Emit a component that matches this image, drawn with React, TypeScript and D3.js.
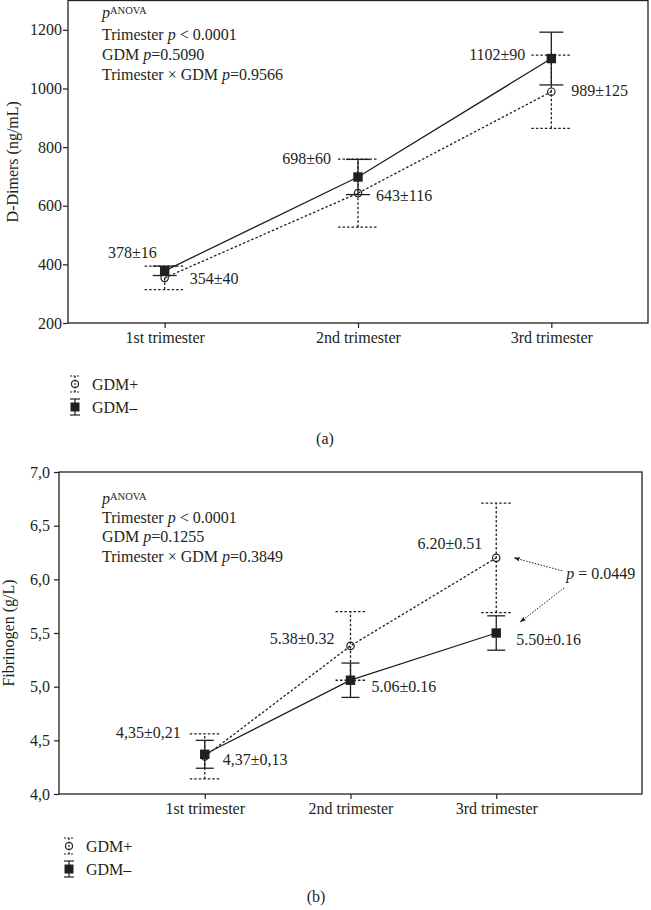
import { useEffect, useRef } from "react";
import * as d3 from "d3";

const trimesters = ["1st trimester", "2nd trimester", "3rd trimester"];
const groups = ["GDM+", "GDM–"];
const anovaTerms = ["Trimester", "GDM", "Trimester × GDM"];

// (a) D-dimers, ng/mL: mean ± SD
const dimerPos = [354, 643, 989];
const dimerPosSd = [40, 116, 125];
const dimerNeg = [378, 698, 1102];
const dimerNegSd = [16, 60, 90];
const dimerTicks = [200, 400, 600, 800, 1000, 1200];
const dimerPosLabels = ["354±40", "643±116", "989±125"];
const dimerNegLabels = ["378±16", "698±60", "1102±90"];
const dimerAnova = [" < 0.0001", "=0.5090", "=0.9566"];

// (b) fibrinogen, g/L: mean ± SD
const fibPos = [4.35, 5.38, 6.2];
const fibPosSd = [0.21, 0.32, 0.51];
const fibNeg = [4.37, 5.06, 5.5];
const fibNegSd = [0.13, 0.16, 0.16];
const fibTicks = [4, 4.5, 5, 5.5, 6, 6.5, 7];
const fibPosLabels = ["4,35±0,21", "5.38±0.32", "6.20±0.51"];
const fibNegLabels = ["4,37±0,13", "5.06±0.16", "5.50±0.16"];
const fibAnova = [" < 0.0001", "=0.1255", "=0.3849"];
const fibPairP = " = 0.0449";

const ink = "#231f20";
const font = "'Liberation Serif', 'Times New Roman', serif";
const dots = "2.5,2";

const panels = [
  {
    left: 68, right: 648, top: 0.5, bottom: 323,
    domain: [200, 1300], ticks: dimerTicks, fmt: d3.format("d"), pad: 0.5, tickPad: 1,
    yLabel: "D-Dimers (ng/mL)", yLabelX: 18,
    pos: dimerPos, posSd: dimerPosSd, neg: dimerNeg, negSd: dimerNegSd,
    posLabels: dimerPosLabels, negLabels: dimerNegLabels,
    posOff: [[25, 6], [18, 8], [20, 4]], negOff: [[-8, -13], [-27, -13], [-26, 1]],
    posAnchor: "start", negAnchor: "end",
    capPos: 20, capNeg: 12,
    anova: dimerAnova, anovaY: [18, 40, 60, 80],
    legendX: 75, legendY: [384, 407], caption: "(a)", captionX: 325, captionY: 444,
  },
  {
    left: 59, right: 642, top: 472, bottom: 794,
    domain: [4, 7], ticks: fibTicks, fmt: (d: number) => d3.format(".1f")(d).replace(".", ","), pad: 1, tickPad: 4,
    yLabel: "Fibrinogen (g/L)", yLabelX: 14,
    pos: fibPos, posSd: fibPosSd, neg: fibNeg, negSd: fibNegSd,
    posLabels: fibPosLabels, negLabels: fibNegLabels,
    posOff: [[-24, -18], [-16, -2], [-14, -9]], negOff: [[18, 11], [21, 12], [20, 12]],
    posAnchor: "end", negAnchor: "start",
    capPos: 15, capNeg: 9,
    anova: fibAnova, anovaY: [504, 523, 542, 562],
    legendX: 69, legendY: [846, 869], caption: "(b)", captionX: 316, captionY: 902,
  },
];

function drawPanel(svg: any, cfg: any, idx: number) {
  const g = svg.append("g");
  const x = d3.scalePoint<string>().domain(trimesters).range([cfg.left, cfg.right]).padding(cfg.pad);
  const y = d3.scaleLinear().domain(cfg.domain).range([cfg.bottom, cfg.top]);

  g.append("rect")
    .attr("x", cfg.left).attr("y", cfg.top)
    .attr("width", cfg.right - cfg.left).attr("height", cfg.bottom - cfg.top)
    .attr("fill", "none").attr("stroke", ink).attr("stroke-width", 1.3);

  const ya = g.append("g")
    .attr("transform", `translate(${cfg.left},0)`)
    .call(d3.axisLeft(y).tickValues(cfg.ticks).tickSize(5).tickPadding(cfg.tickPad).tickFormat(cfg.fmt));
  const xa = g.append("g")
    .attr("transform", `translate(0,${cfg.bottom})`)
    .call(d3.axisBottom(x).tickSize(5).tickPadding(4));
  [ya, xa].forEach(a => {
    a.select(".domain").remove();
    a.attr("font-family", font).attr("font-size", 16);
    a.selectAll("line").attr("stroke", ink).attr("stroke-width", 1.2);
    a.selectAll("text").attr("fill", ink);
  });

  g.append("text")
    .attr("transform", `translate(${cfg.yLabelX},${(cfg.top + cfg.bottom) / 2}) rotate(-90)`)
    .attr("text-anchor", "middle").attr("font-size", 16).attr("fill", ink)
    .text(cfg.yLabel);

  // ANOVA block
  const t0 = g.append("text").attr("x", 102).attr("y", cfg.anovaY[0]).attr("font-size", 16).attr("fill", ink);
  t0.append("tspan").attr("font-style", "italic").text("p");
  t0.append("tspan").attr("font-size", 10.5).attr("dy", -4).text("ANOVA");
  anovaTerms.forEach((term, i) => {
    const t = g.append("text").attr("x", 102).attr("y", cfg.anovaY[i + 1]).attr("font-size", 16).attr("fill", ink);
    t.append("tspan").text(term + " ");
    t.append("tspan").attr("font-style", "italic").text("p");
    t.append("tspan").text(cfg.anova[i]);
  });

  const series = [
    { mean: cfg.pos, sd: cfg.posSd, dash: dots, cap: cfg.capPos, open: true, labels: cfg.posLabels, off: cfg.posOff, anchor: cfg.posAnchor },
    { mean: cfg.neg, sd: cfg.negSd, dash: null, cap: cfg.capNeg, open: false, labels: cfg.negLabels, off: cfg.negOff, anchor: cfg.negAnchor },
  ];

  series.forEach(s => {
    const sg = g.append("g").attr("stroke", ink).attr("stroke-width", 1.3).attr("stroke-dasharray", s.dash);
    trimesters.forEach((tri, i) => {
      const cx = x(tri)!;
      const lo = y(s.mean[i] - s.sd[i]);
      const hi = y(s.mean[i] + s.sd[i]);
      sg.append("line").attr("x1", cx).attr("x2", cx).attr("y1", lo).attr("y2", hi);
      sg.append("line").attr("x1", cx - s.cap).attr("x2", cx + s.cap).attr("y1", lo).attr("y2", lo);
      sg.append("line").attr("x1", cx - s.cap).attr("x2", cx + s.cap).attr("y1", hi).attr("y2", hi);
    });
    const line = d3.line<number>().x((_, i) => x(trimesters[i])!).y(d => y(d));
    g.append("path")
      .datum(s.mean)
      .attr("fill", "none").attr("stroke", ink).attr("stroke-width", 1.3)
      .attr("stroke-dasharray", s.dash)
      .attr("d", line);
  });

  series.forEach(s => {
    trimesters.forEach((tri, i) => {
      const cx = x(tri)!;
      const cy = y(s.mean[i]);
      if (s.open) {
        g.append("circle").attr("cx", cx).attr("cy", cy).attr("r", 3.7)
          .attr("fill", "none").attr("stroke", ink).attr("stroke-width", 1.2);
      } else {
        g.append("rect").attr("x", cx - 4.7).attr("y", cy - 4.7).attr("width", 9.4).attr("height", 9.4).attr("fill", ink);
      }
      g.append("text")
        .attr("x", cx + s.off[i][0]).attr("y", cy + s.off[i][1])
        .attr("text-anchor", s.anchor).attr("font-size", 16).attr("fill", ink)
        .text(s.labels[i]);
    });
  });

  // pairwise comparison at 3rd trimester (panel b)
  if (idx === 1) {
    const cx = x(trimesters[2])!;
    const tx = cx + 70;
    const ty = y(cfg.pos[2]) + 21;
    const pt = g.append("text").attr("x", tx).attr("y", ty).attr("font-size", 16).attr("fill", ink);
    pt.append("tspan").attr("font-style", "italic").text("p");
    pt.append("tspan").text(fibPairP);
    const ag = g.append("g").attr("stroke", ink).attr("stroke-width", 1).attr("stroke-dasharray", "1.5,1.5").attr("fill", "none");
    ag.append("line").attr("x1", tx - 4).attr("y1", ty - 8).attr("x2", cx + 18).attr("y2", y(cfg.pos[2]))
      .attr("marker-end", "url(#arrow)");
    ag.append("line").attr("x1", tx - 2).attr("y1", ty + 9).attr("x2", cx + 24).attr("y2", y(cfg.neg[2]) - 11)
      .attr("marker-end", "url(#arrow)");
  }

  // legend
  const lg = g.append("g");
  groups.forEach((name, i) => {
    const lx = cfg.legendX;
    const ly = cfg.legendY[i];
    const ig = lg.append("g").attr("stroke", ink).attr("stroke-width", 1.2).attr("stroke-dasharray", i === 0 ? "2,1.5" : null);
    ig.append("line").attr("x1", lx).attr("x2", lx).attr("y1", ly - 8).attr("y2", ly + 8);
    ig.append("line").attr("x1", lx - 5).attr("x2", lx + 5).attr("y1", ly - 8).attr("y2", ly - 8);
    ig.append("line").attr("x1", lx - 5).attr("x2", lx + 5).attr("y1", ly + 8).attr("y2", ly + 8);
    if (i === 0) {
      lg.append("circle").attr("cx", lx).attr("cy", ly).attr("r", 3.5).attr("fill", "none").attr("stroke", ink).attr("stroke-width", 1.1);
    } else {
      lg.append("rect").attr("x", lx - 4.5).attr("y", ly - 4.5).attr("width", 9).attr("height", 9).attr("fill", ink);
    }
    lg.append("text").attr("x", lx + 17).attr("y", ly + 5.5).attr("font-size", 16).attr("fill", ink).text(name);
  });

  g.append("text").attr("x", cfg.captionX).attr("y", cfg.captionY)
    .attr("text-anchor", "middle").attr("font-size", 16).attr("fill", ink).text(cfg.caption);
}

export default function App() {
  const svgRef = useRef<SVGSVGElement>(null);

  useEffect(() => {
    if (!svgRef.current) return;
    const svg = d3.select(svgRef.current);
    svg.selectAll("*").remove();
    svg.append("defs").append("marker")
      .attr("id", "arrow").attr("viewBox", "0 0 10 10")
      .attr("refX", 9).attr("refY", 5)
      .attr("markerWidth", 6).attr("markerHeight", 6)
      .attr("orient", "auto")
      .append("path").attr("d", "M0,1.5L10,5L0,8.5Z").attr("fill", ink);
    panels.forEach((p, i) => drawPanel(svg, p, i));
  }, []);

  return (
    <div style={{ position: "absolute", left: 0, top: 0 }}>
      <svg ref={svgRef} width={651} height={910} style={{ display: "block", background: "#fff", fontFamily: font }} />
    </div>
  );
}
